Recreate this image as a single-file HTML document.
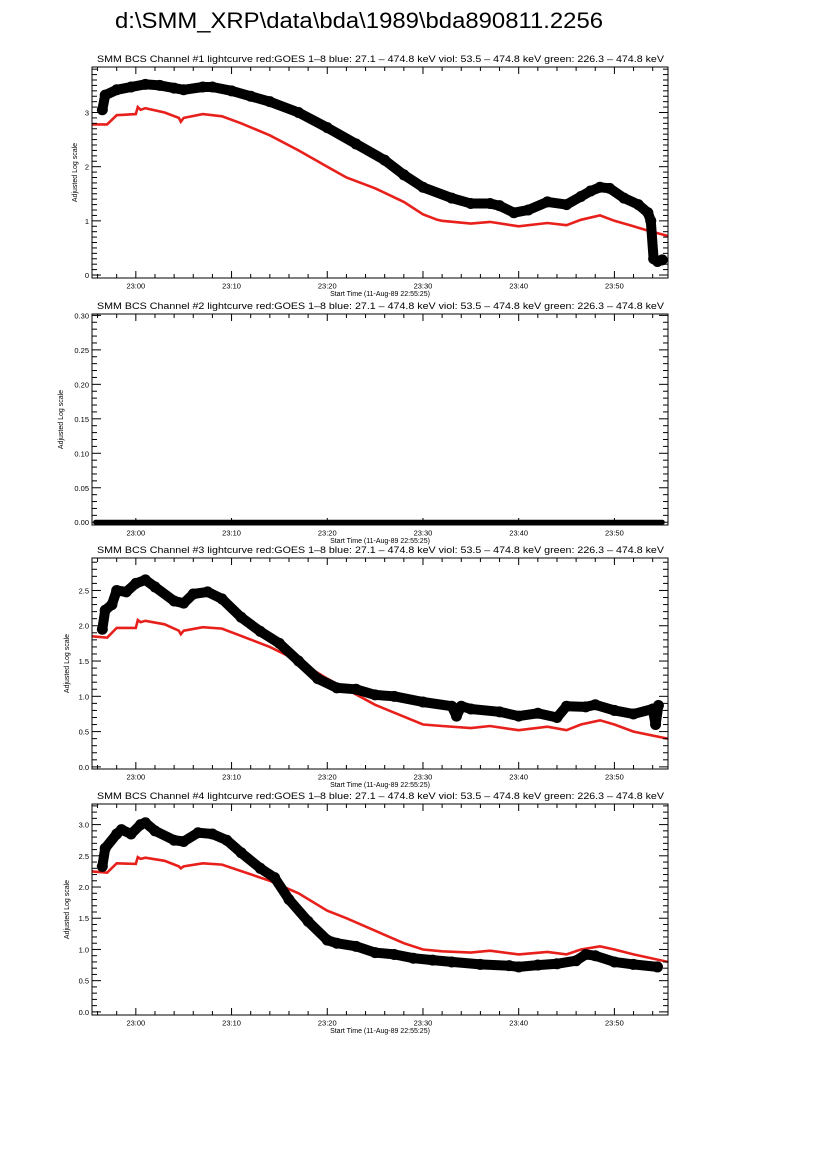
<!DOCTYPE html>
<html><head><meta charset="utf-8"><style>
html,body{margin:0;padding:0;background:#fff;}
svg{display:block;font-family:"Liberation Sans",sans-serif;}
</style></head><body>
<svg id="chart" width="826" height="1169" viewBox="0 0 826 1169">
<text x="115" y="28" font-size="22" textLength="488" lengthAdjust="spacingAndGlyphs">d:\SMM_XRP\data\bda\1989\bda890811.2256</text>
</svg>
<script>
// time in minutes after 23:00
const xTickLabels = ["23:00","23:10","23:20","23:30","23:40","23:50"];
const xTickMinutes = [0,10,20,30,40,50];

const ch1BlackT = [-3.5,-3.2,-2,-0.5,1,2.5,4,5,7,8,10,12,14,17,20,23,26,28,30,33,35,37,38,39.5,41,43,45,46.5,47.5,48.5,49.5,51,52.5,53.5,53.8,54.1,54.5,55];
const ch1BlackV = [3.05,3.32,3.42,3.47,3.52,3.5,3.45,3.42,3.47,3.47,3.4,3.3,3.2,3.0,2.72,2.42,2.12,1.85,1.62,1.42,1.32,1.32,1.28,1.15,1.2,1.35,1.3,1.45,1.55,1.62,1.6,1.42,1.3,1.15,1.0,0.3,0.25,0.28];
const ch1RedT = [-4.6,-3,-2,0,0.2,0.5,1,3,4.5,4.7,5,7,9,11,14,17,20,22,25,28,30,31.5,32,35,37,40,43,45,46.5,48.5,50,52,53.5,55.6];
const ch1RedV = [2.78,2.78,2.95,2.97,3.1,3.05,3.08,3.0,2.9,2.83,2.9,2.97,2.93,2.8,2.58,2.3,2.0,1.8,1.6,1.35,1.12,1.02,1.0,0.95,0.98,0.9,0.96,0.92,1.02,1.1,1.0,0.9,0.82,0.72];

const ch2BlackT = [-4.2,55];
const ch2BlackV = [0,0];

const ch3BlackT = [-3.5,-3.2,-2.5,-2,-1,0,1,2,4,5,6,7.5,9,11,13,15,17,19,21,23,25,27,30,33,33.5,34,35,38,40,42,44,45,47,48,50,52,54,54.3,54.6];
const ch3BlackV = [1.95,2.22,2.3,2.5,2.48,2.6,2.65,2.55,2.35,2.32,2.45,2.48,2.38,2.12,1.92,1.75,1.5,1.25,1.12,1.1,1.02,1.0,0.92,0.86,0.72,0.86,0.82,0.78,0.72,0.76,0.7,0.86,0.85,0.88,0.8,0.75,0.82,0.6,0.87];
const ch3RedT = [-4.6,-3,-2,0,0.2,0.5,1,3,4.5,4.7,5,7,9,14,17,20,25,30,32,35,37,40,43,45,46.5,48.5,50,52,55.6];
const ch3RedV = [1.85,1.83,1.97,1.97,2.08,2.05,2.07,2.02,1.93,1.88,1.93,1.98,1.96,1.7,1.5,1.25,0.88,0.6,0.58,0.55,0.58,0.52,0.57,0.52,0.6,0.66,0.6,0.5,0.4];

const ch4BlackT = [-3.5,-3.2,-2,-1.5,-0.5,0.5,1,2,4,5,6.5,8,9.5,11,13,14.5,16,18,20,21,23,25,27,29,31,33,36,39,40,42,44,46,47,48,50,52,54.5];
const ch4BlackV = [2.33,2.62,2.85,2.92,2.85,3.0,3.03,2.9,2.75,2.73,2.87,2.85,2.75,2.55,2.3,2.15,1.8,1.45,1.15,1.1,1.05,0.95,0.92,0.86,0.83,0.8,0.76,0.74,0.72,0.75,0.77,0.82,0.92,0.9,0.8,0.76,0.72];
const ch4RedT = [-4.6,-3,-2,0,0.2,0.5,1,3,4.5,4.7,5,7,9,14,17,20,22,25,28,30,32,35,37,40,43,45,46.5,48.5,50,52,55.6];
const ch4RedV = [2.25,2.23,2.38,2.37,2.48,2.45,2.47,2.42,2.33,2.3,2.33,2.38,2.36,2.1,1.9,1.62,1.5,1.3,1.1,1.0,0.97,0.95,0.98,0.92,0.96,0.92,1.0,1.05,1.0,0.92,0.8];

const NS="http://www.w3.org/2000/svg";
const svg=document.getElementById('chart');
const X0=92, X1=668, TMIN=-4.58, TMAX=55.6;
function xs(t){return X0+(t-TMIN)/(TMAX-TMIN)*(X1-X0);}
function mk(tag,attrs,parent){const e=document.createElementNS(NS,tag);for(const k in attrs)e.setAttribute(k,attrs[k]);(parent||svg).appendChild(e);return e;}

const titleText="SMM BCS Channel #N lightcurve  red:GOES 1\u20138  blue: 27.1 \u2013 474.8 keV  viol: 53.5 \u2013 474.8 keV  green: 226.3 \u2013 474.8 keV";

const panels=[
 {n:1,top:67,ymin:-0.055,ymax:3.84,major:1,minor:0.1,dec:0,labelX:77,bt:ch1BlackT,bv:ch1BlackV,rt:ch1RedT,rv:ch1RedV},
 {n:2,top:314,ymin:-0.004,ymax:0.302,major:0.05,minor:0.01,dec:2,labelX:63,bt:ch2BlackT,bv:ch2BlackV,rt:null,rv:null},
 {n:3,top:558,ymin:-0.03,ymax:2.96,major:0.5,minor:0.1,dec:1,labelX:69,bt:ch3BlackT,bv:ch3BlackV,rt:ch3RedT,rv:ch3RedV},
 {n:4,top:804,ymin:-0.05,ymax:3.33,major:0.5,minor:0.1,dec:1,labelX:69,bt:ch4BlackT,bv:ch4BlackV,rt:ch4RedT,rv:ch4RedV}
];
const H=211;

panels.forEach(p=>{
 const g=mk('g',{});
 
 
 const top=p.top, bot=top+H;
 const ys=v=>bot-(v-p.ymin)/(p.ymax-p.ymin)*H;
 const t=mk('text',{x:97,y:top-5,'font-size':9,textLength:567,lengthAdjust:'spacingAndGlyphs'},g);
 t.textContent=titleText.replace('#N','#'+p.n);
 
 
 const cp=mk('clipPath',{id:'cp'+p.n},g);
 mk('rect',{x:X0,y:top,width:X1-X0,height:H},cp);
 if(p.rt){
  const pts=p.rt.map((tt,i)=>xs(tt).toFixed(1)+','+ys(p.rv[i]).toFixed(1)).join(' ');
  const r=mk('polyline',{points:pts,fill:'none',stroke:'#e8201c','stroke-width':2.6,'clip-path':'url(#cp'+p.n+')'},g);
  
  
 }
 const pts=p.bt.map((tt,i)=>xs(tt).toFixed(1)+','+ys(p.bv[i]).toFixed(1)).join(' ');
 const bw=p.n===2?5:10;
 const b=mk('polyline',{points:pts,fill:'none',stroke:'#000','stroke-width':bw,'stroke-linejoin':'round','stroke-linecap':'round'},g);
 
 
 if(p.n!==2){
  p.bt.forEach((tt,i)=>{
   const c=mk('circle',{cx:xs(tt),cy:ys(p.bv[i]),r:5.5,fill:'#000'},g);
   
   
  });
 }
 const fr=mk('rect',{x:X0,y:top,width:X1-X0,height:H,fill:'none',stroke:'#000','stroke-width':1},g);
 
 
 for(let m=-4;m<=55;m+=2){
  const x=xs(m), L=(m%10===0)?7:4;
  mk('line',{x1:x,y1:bot,x2:x,y2:bot-L,stroke:'#000','stroke-width':1},g);
  mk('line',{x1:x,y1:top,x2:x,y2:top+L,stroke:'#000','stroke-width':1},g);
 }
 xTickMinutes.forEach((m,i)=>{
  const tl=mk('text',{x:xs(m),y:bot+10.5,'font-size':7.5,'text-anchor':'middle'},g);
  tl.textContent=xTickLabels[i];
  
  
 });
 const xt=mk('text',{x:380,y:bot+18,'font-size':7,'text-anchor':'middle'},g);
 xt.textContent='Start Time (11-Aug-89 22:55:25)';
 
 
 const nMin=Math.ceil(p.ymin/p.minor-1e-6), nMax=Math.floor(p.ymax/p.minor+1e-6);
 const ratio=Math.round(p.major/p.minor);
 for(let k=nMin;k<=nMax;k++){
  const v=k*p.minor, y=ys(v), isMaj=(k%ratio===0), L=isMaj?9:5;
  mk('line',{x1:X0,y1:y,x2:X0+L,y2:y,stroke:'#000','stroke-width':1},g);
  mk('line',{x1:X1,y1:y,x2:X1-L,y2:y,stroke:'#000','stroke-width':1},g);
  if(isMaj){
   const yl=mk('text',{x:X0-3,y:y+3,'font-size':7.5,'text-anchor':'end'},g);
   yl.textContent=v.toFixed(p.dec);
   
   
  }
 }
 const yt=mk('text',{x:p.labelX,y:top+H/2,'font-size':7,'text-anchor':'middle',transform:'rotate(-90 '+p.labelX+' '+(top+H/2)+')'},g);
 yt.textContent='Adjusted Log scale';
 
 
});
</script>
</body></html>
